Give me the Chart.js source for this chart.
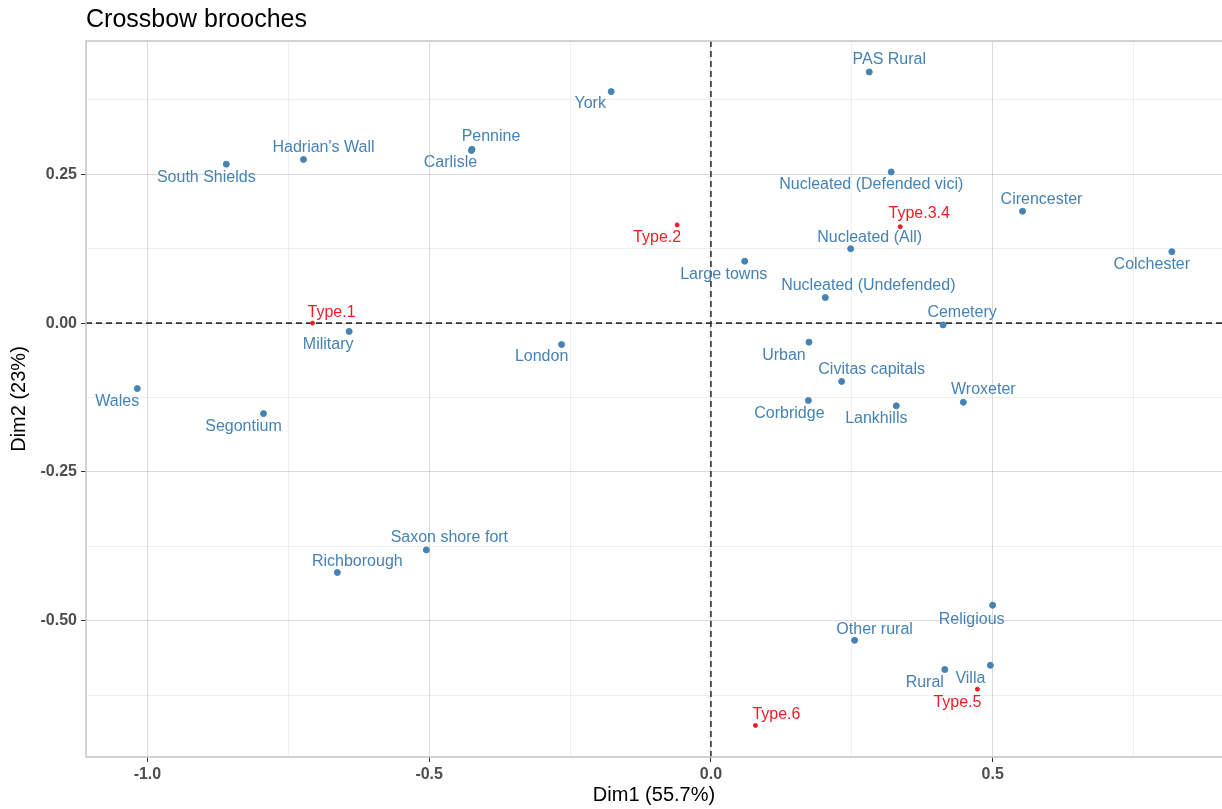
<!DOCTYPE html>
<html>
<head>
<meta charset="utf-8">
<title>Crossbow brooches</title>
<script src="https://cdn.jsdelivr.net/npm/chart.js"></script>
<style>
  html, body { margin: 0; padding: 0; background: #fff; }
  #wrap { width: 1222px; height: 809px; position: relative; }
</style>
</head>
<body>
<div id="wrap"><canvas id="myChart"></canvas></div>
<script>
// site (column) coordinates
const siteNames = ['PAS Rural', 'York', 'Pennine', 'Carlisle', "Hadrian's Wall", 'South Shields',
  'Nucleated (Defended vici)', 'Cirencester', 'Colchester', 'Nucleated (All)', 'Large towns',
  'Nucleated (Undefended)', 'Cemetery', 'Military', 'London', 'Urban', 'Civitas capitals',
  'Wroxeter', 'Corbridge', 'Lankhills', 'Wales', 'Segontium', 'Saxon shore fort', 'Richborough',
  'Religious', 'Other rural', 'Rural', 'Villa'];
const siteDim1 = [0.281, -0.177, -0.424, -0.425, -0.723, -0.860,
  0.320, 0.553, 0.818, 0.248, 0.060,
  0.203, 0.412, -0.642, -0.265, 0.174, 0.232,
  0.448, 0.173, 0.329, -1.018, -0.794, -0.505, -0.663,
  0.500, 0.255, 0.415, 0.496];
const siteDim2 = [0.422, 0.389, 0.292, 0.290, 0.275, 0.267,
  0.254, 0.188, 0.120, 0.125, 0.104,
  0.043, -0.003, -0.014, -0.036, -0.032, -0.098,
  -0.133, -0.130, -0.139, -0.110, -0.152, -0.381, -0.419,
  -0.474, -0.533, -0.582, -0.575];

// brooch type (row) coordinates
const typeNames = ['Type.1', 'Type.2', 'Type.3.4', 'Type.5', 'Type.6'];
const typeDim1 = [-0.707, -0.060, 0.336, 0.473, 0.079];
const typeDim2 = [0.000, 0.165, 0.162, -0.615, -0.676];

// axis ticks, major ones get labels
const xTicks = [-1.0, -0.75, -0.5, -0.25, 0, 0.25, 0.5, 0.75];
const xMajor = [-1.0, -0.5, 0, 0.5];
const yTicks = [0.375, 0.25, 0.125, 0, -0.125, -0.25, -0.375, -0.5, -0.625];
const yMajor = [0.25, 0, -0.25, -0.5];

// label nudges in px, repel style
const siteLabelNudge = [[20,-12],[-21,12],[19,-13],[-21,12],[20,-12],[-20,13],
  [-20,13],[19,-12],[-20,13],[19,-11],[-21,13],
  [43,-12],[19,-12],[-21,13],[-20,12],[-25,13],[30,-12],
  [20,-13],[-19,13],[-20,13],[-20,13],[-20,13],[23,-12],[20,-11],
  [-21,14],[20,-11],[-20,13],[-20,13]];
const typeLabelNudge = [[19,-11],[-20,13],[19,-13],[-20,13],[21,-11]];

const BLUE = '#4682B4';
const RED = '#EE1C25';
const FONT = '"Liberation Sans", Arial, sans-serif';

const inList = (list, v) => list.some(m => Math.abs(m - v) < 1e-6);

const ctx = document.getElementById('myChart');

const caPlot = {
  id: 'caPlot',
  beforeDatasetsDraw(chart) {
    const c = chart.ctx, a = chart.chartArea;
    const x0 = chart.scales.x.getPixelForValue(0);
    const y0 = chart.scales.y.getPixelForValue(0);
    c.save();
    c.strokeStyle = '#333';
    c.lineWidth = 1.6;
    c.setLineDash([6, 4]);
    c.beginPath();
    c.moveTo(x0, a.top); c.lineTo(x0, a.bottom);
    c.moveTo(a.left, y0); c.lineTo(a.right, y0);
    c.stroke();
    c.restore();
  },
  afterDatasetsDraw(chart) {
    const c = chart.ctx, a = chart.chartArea;
    c.save();
    c.font = '16px ' + FONT;
    c.textAlign = 'center';
    c.textBaseline = 'middle';
    const sets = [[0, siteNames, siteLabelNudge, BLUE], [1, typeNames, typeLabelNudge, RED]];
    sets.forEach(([di, names, nudge, col]) => {
      const meta = chart.getDatasetMeta(di);
      c.fillStyle = col;
      meta.data.forEach((pt, i) => {
        c.fillText(names[i], pt.x + nudge[i][0], pt.y + nudge[i][1]);
      });
    });
    // panel border (right edge falls outside the picture)
    c.strokeStyle = '#c4c4c4';
    c.lineWidth = 1.5;
    c.beginPath();
    c.moveTo(a.right + 2, a.top);
    c.lineTo(a.left, a.top);
    c.lineTo(a.left, a.bottom);
    c.lineTo(a.right + 2, a.bottom);
    c.stroke();
    // title
    c.fillStyle = '#000';
    c.font = '25px ' + FONT;
    c.textAlign = 'left';
    c.textBaseline = 'alphabetic';
    c.fillText('Crossbow brooches', a.left, 27);
    c.restore();
  }
};

new Chart(ctx, {
  type: 'scatter',
  data: {
    datasets: [{
      label: 'Sites',
      data: siteDim1.map((x, i) => ({ x: x, y: siteDim2[i] })),
      backgroundColor: BLUE,
      borderColor: BLUE,
      pointRadius: 3
    }, {
      label: 'Types',
      data: typeDim1.map((x, i) => ({ x: x, y: typeDim2[i] })),
      backgroundColor: RED,
      borderColor: RED,
      pointRadius: 2
    }]
  },
  options: {
    responsive: true,
    maintainAspectRatio: false,
    animation: false,
    layout: { autoPadding: false, padding: { top: 41, right: 0, left: 0, bottom: 0 } },
    plugins: { legend: { display: false }, tooltip: { enabled: false } },
    scales: {
      x: {
        min: -1.109, max: 0.907,
        afterBuildTicks: (axis) => { axis.ticks = xTicks.map(v => ({ value: v })); },
        afterFit: (axis) => { axis.height = 52; axis.paddingRight = 0; axis.paddingLeft = 0; },
        border: { display: false },
        grid: {
          color: (c) => inList(xMajor, c.tick.value) ? 'rgba(0,0,0,0.14)' : 'rgba(0,0,0,0.06)',
          tickColor: (c) => inList(xMajor, c.tick.value) ? '#333' : 'rgba(0,0,0,0)',
          tickLength: 5
        },
        ticks: {
          autoSkip: false, maxRotation: 0, padding: 3,
          color: '#4d4d4d',
          font: { family: FONT, size: 16, weight: 'bold' },
          callback: (v) => inList(xMajor, v) ? v.toFixed(1) : ''
        },
        title: {
          display: true, text: 'Dim1 (55.7%)', color: '#000', padding: { top: 0, bottom: 2 },
          font: { family: FONT, size: 20 }
        }
      },
      y: {
        min: -0.729, max: 0.474,
        afterBuildTicks: (axis) => { axis.ticks = yTicks.map(v => ({ value: v })); },
        afterFit: (axis) => { axis.width = 86; },
        border: { display: false },
        grid: {
          color: (c) => inList(yMajor, c.tick.value) ? 'rgba(0,0,0,0.14)' : 'rgba(0,0,0,0.06)',
          tickColor: (c) => inList(yMajor, c.tick.value) ? '#333' : 'rgba(0,0,0,0)',
          tickLength: 5
        },
        ticks: {
          autoSkip: false, padding: 4,
          color: '#4d4d4d',
          font: { family: FONT, size: 16, weight: 'bold' },
          callback: (v) => inList(yMajor, v) ? v.toFixed(2) : ''
        },
        title: {
          display: true, text: 'Dim2 (23%)', color: '#000', padding: { top: 7, bottom: 0 },
          font: { family: FONT, size: 20 }
        }
      }
    }
  },
  plugins: [caPlot]
});
</script>
</body>
</html>
